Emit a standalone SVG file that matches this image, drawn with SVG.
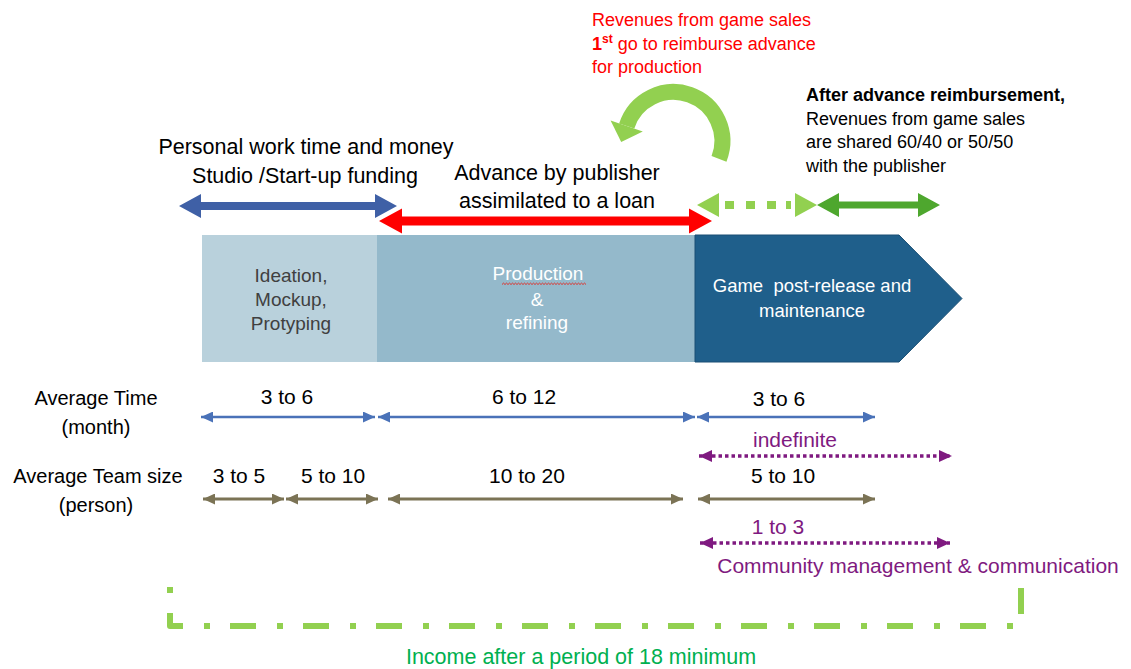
<svg xmlns="http://www.w3.org/2000/svg" width="1131" height="669" viewBox="0 0 1131 669">
<style>
text{font-family:"Liberation Sans",Arial,sans-serif;}
.t{font-size:21.5px;fill:#000;text-anchor:middle;}
.red{font-size:18px;fill:#ff0000;}
.blk{font-size:18px;fill:#000;}
.box1t{font-size:19px;fill:#404040;text-anchor:middle;}
.box2t{font-size:19px;fill:#ffffff;text-anchor:middle;}
.box3t{font-size:18.5px;fill:#ffffff;text-anchor:middle;}
.lab{font-size:20px;fill:#000;text-anchor:middle;}
.num{font-size:21px;fill:#000;text-anchor:middle;}
.pur{font-size:21px;fill:#7f1a80;text-anchor:middle;}
.thinb{stroke:#4a72b8;stroke-width:2.5;fill:none;marker-start:url(#hb);marker-end:url(#hb);}
.thino{stroke:#7b7355;stroke-width:3;fill:none;marker-start:url(#ho);marker-end:url(#ho);}
.dotp{stroke:#7f1a80;stroke-width:3.5;stroke-dasharray:3.5 3;fill:none;marker-start:url(#hp);marker-end:url(#hp);}
</style>
<defs>
<marker id="hb" markerUnits="userSpaceOnUse" markerWidth="12" markerHeight="11" refX="12" refY="5.5" orient="auto-start-reverse" viewBox="0 0 12 11"><path d="M0,0 L12,5.5 L0,11 Z" fill="#4a72b8"/></marker>
<marker id="ho" markerUnits="userSpaceOnUse" markerWidth="12" markerHeight="11" refX="12" refY="5.5" orient="auto-start-reverse" viewBox="0 0 12 11"><path d="M0,0 L12,5.5 L0,11 Z" fill="#7b7355"/></marker>
<marker id="hp" markerUnits="userSpaceOnUse" markerWidth="13" markerHeight="12" refX="13" refY="6" orient="auto-start-reverse" viewBox="0 0 13 12"><path d="M0,0 L13,6 L0,12 Z" fill="#7f1a80"/></marker>
</defs>
<rect width="1131" height="669" fill="#ffffff"/>

<g id="note-revenues">
<text class="red" x="592" y="26">Revenues from game sales</text>
<text class="red" x="592" y="50"><tspan font-weight="bold">1</tspan><tspan font-weight="bold" font-size="12px" dy="-7">st</tspan><tspan dy="7"> go to reimburse advance</tspan></text>
<text class="red" x="592" y="73">for production</text>
</g>

<g id="note-after">
<text class="blk" x="806" y="101" font-weight="bold">After advance reimbursement,</text>
<text class="blk" x="806" y="125">Revenues from game sales</text>
<text class="blk" x="806" y="148">are shared 60/40 or 50/50</text>
<text class="blk" x="806" y="172">with the publisher</text>
</g>

<g id="label-personal">
<text class="t" x="306" y="154">Personal work time and money</text>
<text class="t" x="305" y="183">Studio /Start-up funding</text>
</g>

<g id="label-advance">
<text class="t" x="557" y="180">Advance by publisher</text>
<text class="t" x="557" y="208">assimilated to a loan</text>
</g>

<g id="box-ideation">
<rect x="202" y="235" width="176" height="127" fill="#b9d1dc"/>
<text class="box1t" x="291" y="282">Ideation,</text>
<text class="box1t" x="291" y="306">Mockup,</text>
<text class="box1t" x="291" y="330">Protyping</text>
</g>

<g id="box-production">
<rect x="377" y="235" width="318" height="127" fill="#94b9cb"/>
<text class="box2t" x="538" y="280">Production</text>
<path d="M502,284.5 l1.5,-1.4 l1.5,1.4 l1.5,-1.4 l1.5,1.4 l1.5,-1.4 l1.5,1.4 l1.5,-1.4 l1.5,1.4 l1.5,-1.4 l1.5,1.4 l1.5,-1.4 l1.5,1.4 l1.5,-1.4 l1.5,1.4 l1.5,-1.4 l1.5,1.4 l1.5,-1.4 l1.5,1.4 l1.5,-1.4 l1.5,1.4 l1.5,-1.4 l1.5,1.4 l1.5,-1.4 l1.5,1.4 l1.5,-1.4 l1.5,1.4 l1.5,-1.4 l1.5,1.4 l1.5,-1.4 l1.5,1.4 l1.5,-1.4 l1.5,1.4 l1.5,-1.4 l1.5,1.4 l1.5,-1.4 l1.5,1.4 l1.5,-1.4 l1.5,1.4 l1.5,-1.4 l1.5,1.4 l1.5,-1.4 l1.5,1.4 l1.5,-1.4 l1.5,1.4 l1.5,-1.4 l1.5,1.4 l1.5,-1.4 l1.5,1.4 l1.5,-1.4 l1.5,1.4 l1.5,-1.4 l1.5,1.4 l1.5,-1.4 l1.5,1.4 l1.5,-1.4 l1.5,1.4" fill="none" stroke="#e0302a" stroke-width="1"/>
<text class="box2t" x="537" y="306">&amp;</text>
<text class="box2t" x="537" y="329">refining</text>
</g>

<g id="box-postrelease">
<path d="M695,235 L899,235 L962,298.5 L899,362 L695,362 Z" fill="#1f5f8b" stroke="#1a4f74" stroke-width="1"/>
<text class="box3t" x="812" y="292" xml:space="preserve">Game  post-release and</text>
<text class="box3t" x="812" y="317">maintenance</text>
</g>

<g id="labels-rows">
<text class="lab" x="96" y="405">Average Time</text>
<text class="lab" x="96" y="434">(month)</text>
<text class="lab" x="98" y="483">Average Team size</text>
<text class="lab" x="96" y="512">(person)</text>
<text class="num" x="287" y="404">3 to 6</text>
<text class="num" x="524" y="404">6 to 12</text>
<text class="num" x="779" y="406">3 to 6</text>
<text class="pur" x="795" y="447">indefinite</text>
<text class="num" x="239" y="483">3 to 5</text>
<text class="num" x="333" y="483">5 to 10</text>
<text class="num" x="527" y="483">10 to 20</text>
<text class="num" x="783" y="483">5 to 10</text>
<text class="pur" x="778" y="534">1 to 3</text>
<text class="pur" x="918" y="573" font-size="21.8px">Community management &amp; communication</text>
<text x="581" y="664" font-size="21.5px" fill="#00b050" text-anchor="middle">Income after a period of 18 minimum</text>
</g>

<g id="connectors">
<polygon points="179,206 201,194 201,202 375,202 375,194 397,206 375,218 375,210 201,210 201,218" fill="#3f60a6"/>
<polygon points="379,221 402,208.5 402,216.5 689,216.5 689,208.5 712,221 689,233.5 689,225.5 402,225.5 402,233.5" fill="#ff0000"/>
<g fill="#92d050">
<polygon points="697,205 719,193 719,217"/>
<rect x="725" y="201" width="9" height="8"/>
<rect x="746" y="201" width="9" height="8"/>
<rect x="767" y="201" width="9" height="8"/>
<rect x="786" y="201" width="5" height="8"/>
<polygon points="817,205 795,193 795,217"/>
</g>
<polygon points="817,205 839,193 839,201.5 918,201.5 918,193 940,205 918,217 918,208.5 839,208.5 839,217" fill="#4ea72e"/>
<path d="M719,158.8 A49,49 0 1 0 626.7,126" fill="none" stroke="#92d050" stroke-width="16"/>
<polygon points="642.8,131.5 621.2,142.1 610.6,120.5" fill="#92d050"/>

<line class="thinb" x1="201" y1="417" x2="375" y2="417"/>
<line class="thinb" x1="378" y1="417" x2="695" y2="417"/>
<line class="thinb" x1="697" y1="417" x2="875" y2="417"/>

<line class="dotp" x1="699" y1="456" x2="952" y2="456"/>

<line class="thino" x1="203" y1="499" x2="284" y2="499"/>
<line class="thino" x1="286" y1="499" x2="378" y2="499"/>
<line class="thino" x1="388" y1="499" x2="683" y2="499"/>
<line class="thino" x1="698" y1="499" x2="875" y2="499"/>

<line class="dotp" x1="700" y1="543" x2="950" y2="543"/>

<path d="M170,587 L170,626 L1021,626 L1021,585" fill="none" stroke="#92d050" stroke-width="6" stroke-dasharray="6 20 26 21" stroke-linejoin="round"/>
</g>
</svg>
